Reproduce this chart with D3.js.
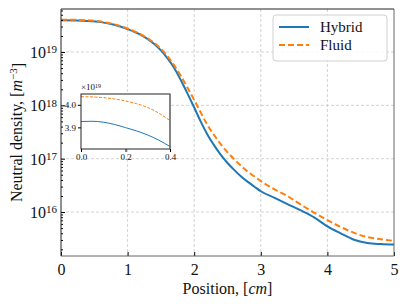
<!DOCTYPE html>
<html>
<head>
<meta charset="utf-8">
<script src="https://cdn.jsdelivr.net/npm/d3@7"></script>
<style>
  body { margin: 0; background: #fff; }
  text { font-family: "Liberation Serif", "DejaVu Serif", serif; fill: #111; }
</style>
</head>
<body>
<svg width="407" height="305"></svg>
<script>
const width = 407;
const height = 305;
const margin = {top: 9, right: 13, bottom: 49, left: 61};

// main curves, log10 of density
const position = [0, 0.2, 0.4, 0.6, 0.8, 1.0, 1.2, 1.4, 1.5, 1.6, 1.7, 1.8, 1.9, 2.0, 2.1, 2.2, 2.3, 2.4, 2.5, 2.6, 2.7, 2.8, 2.9, 3.0, 3.2, 3.4, 3.6, 3.8, 4.0, 4.2, 4.4, 4.6, 4.8, 5.0];
const hybridLog = [19.594, 19.590, 19.582, 19.56, 19.51, 19.43, 19.32, 19.15, 19.03, 18.88, 18.70, 18.47, 18.22, 17.96, 17.69, 17.45, 17.25, 17.07, 16.92, 16.79, 16.67, 16.57, 16.48, 16.39, 16.27, 16.15, 16.03, 15.90, 15.73, 15.60, 15.48, 15.42, 15.40, 15.39];
const fluidLog = [19.605, 19.603, 19.594, 19.57, 19.52, 19.44, 19.33, 19.17, 19.06, 18.92, 18.75, 18.55, 18.33, 18.10, 17.86, 17.63, 17.44, 17.27, 17.12, 16.99, 16.87, 16.76, 16.67, 16.58, 16.43, 16.30, 16.14, 15.99, 15.85, 15.72, 15.61, 15.53, 15.49, 15.46];

// inset, units of 1e19
const insetPos = [0, 0.05, 0.1, 0.15, 0.2, 0.25, 0.3, 0.35, 0.4];
const insetHybrid = [3.926, 3.927, 3.923, 3.913, 3.899, 3.884, 3.866, 3.843, 3.815];
const insetFluid = [4.036, 4.035, 4.032, 4.026, 4.017, 4.005, 3.988, 3.963, 3.93];

const xTicks = [0, 1, 2, 3, 4, 5];
const yDecades = [16, 17, 18, 19];
const seriesNames = ["Hybrid", "Fluid"];
const colors = ["#1f77b4", "#ff7f0e"];

const svg = d3.select("svg");
const plotW = width - margin.left - margin.right;
const plotH = height - margin.top - margin.bottom;

const x = d3.scaleLinear().domain([0, 5]).range([margin.left, margin.left + plotW]);
const y = d3.scaleLog().domain([1.5e15, 6.4e19]).range([margin.top + plotH, margin.top]);

// grid
const grid = svg.append("g").attr("stroke", "#c8c8c8").attr("stroke-dasharray", "3,2").attr("stroke-width", 0.8);
xTicks.slice(1, -1).forEach(t => grid.append("line")
    .attr("x1", x(t)).attr("x2", x(t)).attr("y1", margin.top).attr("y2", margin.top + plotH));
yDecades.forEach(d => grid.append("line")
    .attr("x1", margin.left).attr("x2", margin.left + plotW).attr("y1", y(10 ** d)).attr("y2", y(10 ** d)));

// curves
const line = d3.line().x(d => x(d[0])).y(d => y(10 ** d[1])).curve(d3.curveMonotoneX);
const hybridPts = position.map((p, i) => [p, hybridLog[i]]);
const fluidPts = position.map((p, i) => [p, fluidLog[i]]);

svg.append("clipPath").attr("id", "clip").append("rect")
    .attr("x", margin.left).attr("y", margin.top).attr("width", plotW).attr("height", plotH);

svg.append("path").datum(hybridPts).attr("d", line)
    .attr("fill", "none").attr("stroke", colors[0]).attr("stroke-width", 2).attr("clip-path", "url(#clip)");
svg.append("path").datum(fluidPts).attr("d", line)
    .attr("fill", "none").attr("stroke", colors[1]).attr("stroke-width", 2)
    .attr("stroke-dasharray", "6,3").attr("clip-path", "url(#clip)");

// axes (ticks inward)
const xAxis = svg.append("g").attr("transform", `translate(0,${margin.top + plotH})`)
    .call(d3.axisBottom(x).tickValues(xTicks).tickSize(-4).tickPadding(8).tickFormat(d3.format("d")));
xAxis.select(".domain").remove();
xAxis.selectAll("text").attr("font-size", 16);

const minorTicks = [];
for (let d = 15; d <= 19; d++) for (let m = 2; m <= 9; m++) {
    const v = m * 10 ** d;
    if (v >= 1.5e15 && v <= 6.4e19) minorTicks.push(v);
}
const yMinor = svg.append("g").attr("transform", `translate(${margin.left},0)`)
    .call(d3.axisLeft(y).tickValues(minorTicks).tickSize(-2).tickFormat(""));
yMinor.select(".domain").remove();

const yAxis = svg.append("g").attr("transform", `translate(${margin.left},0)`)
    .call(d3.axisLeft(y).tickValues(yDecades.map(d => 10 ** d)).tickSize(-4).tickFormat(""));
yAxis.select(".domain").remove();
yAxis.selectAll(".tick").append("text")
    .attr("x", -4).attr("dy", "0.35em").attr("text-anchor", "end").attr("font-size", 16)
    .attr("fill", "#111")
    .each(function(d) {
        const t = d3.select(this);
        t.append("tspan").text("10");
        t.append("tspan").attr("dy", "-0.45em").attr("font-size", 11).text(Math.round(Math.log10(d)));
    });

// spines
svg.append("line").attr("x1", margin.left).attr("x2", margin.left + plotW)
    .attr("y1", margin.top).attr("y2", margin.top).attr("stroke", "#222");
svg.append("line").attr("x1", margin.left).attr("x2", margin.left)
    .attr("y1", margin.top).attr("y2", margin.top + plotH).attr("stroke", "#222");
svg.append("line").attr("x1", margin.left + plotW).attr("x2", margin.left + plotW)
    .attr("y1", margin.top).attr("y2", margin.top + plotH).attr("stroke", "#666");
svg.append("line").attr("x1", margin.left).attr("x2", margin.left + plotW)
    .attr("y1", margin.top + plotH).attr("y2", margin.top + plotH).attr("stroke", "#666");

// labels
svg.append("text").attr("x", margin.left + plotW / 2).attr("y", 294).attr("text-anchor", "middle")
    .attr("font-size", 16)
    .call(t => {
        t.append("tspan").text("Position, [");
        t.append("tspan").attr("font-style", "italic").text("cm");
        t.append("tspan").text("]");
    });
svg.append("text").attr("transform", `translate(22,${margin.top + plotH / 2}) rotate(-90)`)
    .attr("text-anchor", "middle").attr("font-size", 16)
    .call(t => {
        t.append("tspan").text("Neutral density, [");
        t.append("tspan").attr("font-style", "italic").text("m");
        t.append("tspan").attr("dy", "-0.45em").attr("font-size", 11).text("−3");
        t.append("tspan").attr("dy", "0.45em").text("]");
    });

// legend
const legend = svg.append("g").attr("transform", "translate(273,15)");
legend.append("rect").attr("width", 114).attr("height", 46).attr("rx", 3)
    .attr("fill", "#fff").attr("fill-opacity", 0.85).attr("stroke", "#d0d0d0");
seriesNames.forEach((name, i) => {
    const g = legend.append("g").attr("transform", `translate(0,${12 + i * 18})`);
    g.append("line").attr("x1", 6).attr("x2", 36).attr("y1", 0).attr("y2", 0)
        .attr("stroke", colors[i]).attr("stroke-width", 2)
        .attr("stroke-dasharray", i === 1 ? "6,3" : null);
    g.append("text").attr("x", 47).attr("dy", "0.35em").attr("font-size", 15).text(name);
});

// inset
const inset = {left: 81, right: 170, top: 94, bottom: 149};
const ix = d3.scaleLinear().domain([0, 0.4]).range([inset.left, inset.right]);
const iy = d3.scaleLinear().domain([3.804, 4.048]).range([inset.bottom, inset.top]);
const ig = svg.append("g");
ig.append("rect").attr("x", inset.left).attr("y", inset.top)
    .attr("width", inset.right - inset.left).attr("height", inset.bottom - inset.top).attr("fill", "#fff");

const iline = d3.line().x(d => ix(d[0])).y(d => iy(d[1])).curve(d3.curveMonotoneX);
ig.append("path").datum(insetPos.map((p, i) => [p, insetHybrid[i]])).attr("d", iline)
    .attr("fill", "none").attr("stroke", colors[0]).attr("stroke-width", 1);
ig.append("path").datum(insetPos.map((p, i) => [p, insetFluid[i]])).attr("d", iline)
    .attr("fill", "none").attr("stroke", colors[1]).attr("stroke-width", 1).attr("stroke-dasharray", "3,1.5");

const ixAxis = ig.append("g").attr("transform", `translate(0,${inset.bottom})`)
    .call(d3.axisBottom(ix).tickValues([0, 0.2, 0.4]).tickSize(3).tickPadding(2).tickFormat(d3.format(".1f")));
ixAxis.select(".domain").remove();
ixAxis.selectAll("text").attr("font-size", 9).attr("font-family", "DejaVu Sans");
const iyAxis = ig.append("g").attr("transform", `translate(${inset.left},0)`)
    .call(d3.axisLeft(iy).tickValues([3.9, 4.0]).tickSize(3).tickPadding(2).tickFormat(d3.format(".1f")));
iyAxis.select(".domain").remove();
iyAxis.selectAll("text").attr("font-size", 9).attr("font-family", "DejaVu Sans");

ig.append("rect").attr("x", inset.left).attr("y", inset.top)
    .attr("width", inset.right - inset.left).attr("height", inset.bottom - inset.top)
    .attr("fill", "none").attr("stroke", "#222");
ig.append("line").attr("x1", inset.right).attr("x2", inset.right)
    .attr("y1", inset.top).attr("y2", inset.bottom).attr("stroke", "#777");

ig.append("text").attr("x", inset.left).attr("y", inset.top - 4).attr("font-size", 9)
    .call(t => {
        t.append("tspan").text("×10");
        t.append("tspan").attr("dy", "-0.4em").attr("font-size", 6).text("19");
    });
</script>
</body>
</html>
